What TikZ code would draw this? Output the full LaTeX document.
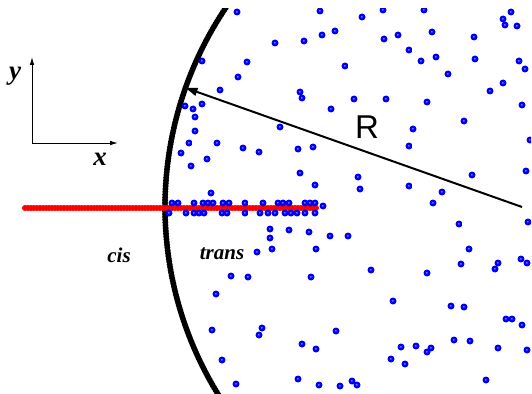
\documentclass[tikz,border=0pt]{standalone}
\usepackage{fontspec}
\newfontfamily\serifface{Liberation Serif}
\newfontfamily\sansface{Liberation Sans}
\usetikzlibrary{arrows.meta}

% Flat blue ball with a small light spot, as in the ion markers
\pgfdeclareradialshading{ionball}{\pgfqpoint{-5bp}{5bp}}{%
  color(0bp)=(blue!15!white); color(6bp)=(blue); color(21bp)=(blue);
  color(25bp)=(blue!75!black); color(50bp)=(blue!75!black)}

\tikzset{
  membranebead/.style={fill=black},
  polybead/.style={fill=red},
  ion/.style={shading=ionball},
  axisline/.style={-{Latex[length=8pt, width=4.5pt]}, line width=0.9pt},
  sidelabel/.style={font=\serifface\bfseries\itshape\fontsize{21}{21}\selectfont},
  axislabel/.style={font=\serifface\bfseries\itshape\fontsize{27}{27}\selectfont}
}

\begin{document}
\begin{tikzpicture}[x=1pt, y=-1pt]
    \useasboundingbox (0,0) rectangle (532,393);
    % Coordinate axes (top left)
    \coordinate (origin) at (32,143);
    \coordinate (xtip) at (118,143);
    \coordinate (ytip) at (32,57);
    \draw[axisline] (origin) -- (ytip);
    \draw[axisline] (origin) -- (xtip);
    \node[axislabel] (ylab) at (15,76) {y};
    \node[axislabel] (xlab) at (100,159) {x};
    \begin{scope}
      \clip (0,9) rectangle (531,393);
      % Membrane: arc of beads, centre (522,207), radius 357
      \foreach \a in {146,146.45,...,216}
        \fill[membranebead] ({522+357*cos(\a)},{207+357*sin(\a)}) circle (3);
      % Polymer chain crossing the membrane
      \foreach \px in {25,28,...,316}
        \fill[polybead] (\px,208) circle (3);
      % Ions next to the chain, above and below
      \foreach \px in {172,178,194,203,208,213,223,229,245,263,278,283,289,305,310,315}
        \shade[ion] (\px,203) circle (3.5);
      \foreach \px in {169,186,194,199,204,222,227,245,260,268,275,285,291,297,305,315}
        \shade[ion] (\px,213) circle (3.5);
      % Free ions on the trans side
      \foreach \px/\py in {237/12, 320/11, 362/17, 383/10, 424/10, 511/12, 503/19,
          505/25, 517/26, 202/61, 247/62, 238/77, 220/90, 185/106, 193/109,
          202/104, 195/117, 195/131, 189/143, 217/143, 243/148, 259/152, 181/153,
          207/159, 191/166, 211/193, 275/43, 304/41, 322/35, 335/31, 384/39,
          398/35, 432/32, 474/37, 409/50, 421/61, 436/57, 475/59, 519/61, 525/69,
          448/74, 345/66, 300/92, 302/98, 354/99, 386/99, 427/102, 490/91, 503/83,
          522/105, 331/109, 280/127, 413/129, 464/121, 530/140, 298/149, 313/147,
          409/146, 300/173, 358/177, 315/185, 360/189, 409/186, 442/192, 472/175,
          526/171, 433/203, 323/206, 528/222, 459/224, 270/229, 289/230, 309/232,
          330/236, 348/236, 270/238, 272/249, 316/249, 257/252, 469/249, 461/264,
          498/263, 495/269, 521/259, 527/263, 371/270, 427/273, 231/276, 248/277,
          311/277, 216/294, 393/301, 451/306, 464/307, 506/319, 512/319, 522/325,
          212/330, 262/328, 259/335, 336/331, 302/344, 316/349, 401/347, 416/346,
          431/348, 427/352, 454/340, 470/341, 498/348, 527/350, 222/360, 391/359,
          405/364, 236/384, 298/379, 319/385, 340/386, 352/381, 357/385, 486/380}
        \shade[ion] (\px,\py) circle (3.5);
    \end{scope}
    % Radius of the membrane
    \coordinate (centre) at (522,207);
    \coordinate (rim) at ({522+357*cos(199.5)},{207+357*sin(199.5)});
    \draw[-{Triangle[length=12pt, width=8pt]}, line width=2pt] (centre) -- (rim);
    \node[font=\sansface\fontsize{33}{33}\selectfont] (radius) at (367,127) {R};
    % Side labels
    \node[sidelabel] (cis) at (119,255) {cis};
    \node[sidelabel] (trans) at (222,254) {trans};
\end{tikzpicture}
\end{document}
